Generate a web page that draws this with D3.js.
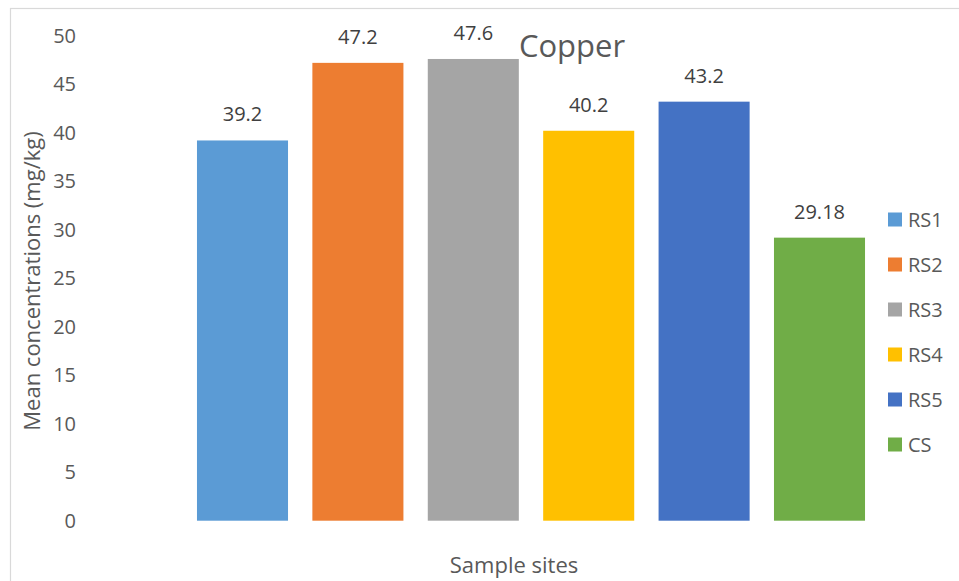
<!DOCTYPE html>
<html>
<head>
<meta charset="utf-8">
<script src="https://cdn.jsdelivr.net/npm/d3@7"></script>
<style>
  html, body { margin: 0; padding: 0; background: #fff; }
  svg { display: block; font-family: "Open Sans", "Noto Sans", sans-serif; }
</style>
</head>
<body>
<svg id="chart" width="959" height="581"></svg>
<script>
const categories = ["RS1", "RS2", "RS3", "RS4", "RS5", "CS"];
const values = [39.2, 47.2, 47.6, 40.2, 43.2, 29.18];
const valueLabels = ["39.2", "47.2", "47.6", "40.2", "43.2", "29.18"];
const colors = ["#5B9BD5", "#ED7D31", "#A5A5A5", "#FFC000", "#4472C4", "#70AD47"];
const yTicks = [0, 5, 10, 15, 20, 25, 30, 35, 40, 45, 50];
const chartTitle = "Copper";
const yTitle = "Mean concentrations (mg/kg)";
const xTitle = "Sample sites";

const svg = d3.select("#chart");

// chart border
svg.append("rect")
  .attr("x", 10.5).attr("y", 8.5)
  .attr("width", 960).attr("height", 600)
  .attr("fill", "#fff").attr("stroke", "#d9d9d9").attr("stroke-width", 1.2);

const x = d3.scaleBand()
  .domain(categories)
  .range([184.8, 877.2])
  .paddingInner(0.211)
  .paddingOuter(0.1055);

const y = d3.scaleLinear().domain([0, 50]).range([520.7, 35.7]);

// y axis labels (no line, no ticks)
const yAxis = d3.axisLeft(y).tickValues(yTicks).tickSize(0).tickPadding(0);
const gy = svg.append("g").attr("transform", "translate(76,0)").call(yAxis);
gy.select(".domain").remove();
gy.selectAll("text")
  .attr("fill", "#595959")
  .style("font-size", "20px")
  .style("font-family", "'Open Sans', sans-serif");

// bars
svg.append("g").selectAll("rect")
  .data(values)
  .join("rect")
  .attr("x", (d, i) => x(categories[i]))
  .attr("width", x.bandwidth())
  .attr("y", d => y(d))
  .attr("height", d => y(0) - y(d))
  .attr("fill", (d, i) => colors[i]);

// data labels
svg.append("g").selectAll("text")
  .data(values)
  .join("text")
  .attr("x", (d, i) => x(categories[i]) + x.bandwidth() / 2)
  .attr("y", d => y(d) - 19)
  .attr("text-anchor", "middle")
  .attr("fill", "#404040")
  .style("font-size", "20px")
  .text((d, i) => valueLabels[i]);

// title
svg.append("text")
  .attr("x", 572).attr("y", 57)
  .attr("text-anchor", "middle")
  .attr("fill", "#595959")
  .style("font-size", "31px")
  .text(chartTitle);

// y axis title
svg.append("text")
  .attr("transform", "translate(40,281) rotate(-90)")
  .attr("text-anchor", "middle")
  .attr("fill", "#595959")
  .style("font-size", "22px")
  .text(yTitle);

// x axis title
svg.append("text")
  .attr("x", 514).attr("y", 573)
  .attr("text-anchor", "middle")
  .attr("fill", "#595959")
  .style("font-size", "22px")
  .text(xTitle);

// legend
const legend = svg.append("g").selectAll("g")
  .data(categories)
  .join("g")
  .attr("transform", (d, i) => `translate(888,${219.5 + i * 45})`);
legend.append("rect")
  .attr("x", 0).attr("y", -7)
  .attr("width", 14).attr("height", 14)
  .attr("fill", (d, i) => colors[i]);
legend.append("text")
  .attr("x", 20).attr("y", 0)
  .attr("dy", "0.35em")
  .attr("fill", "#595959")
  .style("font-size", "20px")
  .text(d => d);
</script>
</body>
</html>
